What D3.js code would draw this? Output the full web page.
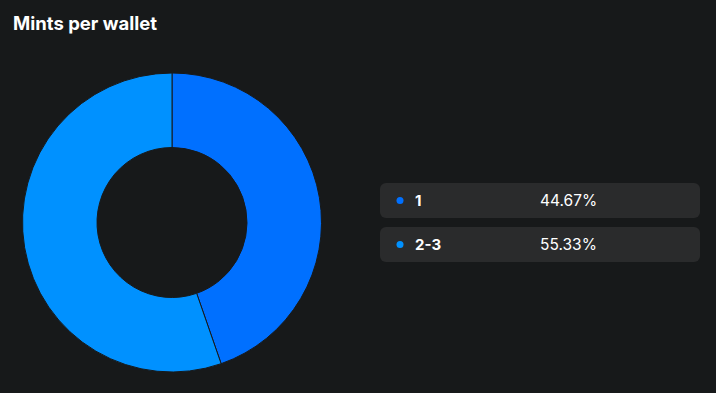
<!DOCTYPE html>
<html><head><meta charset="utf-8">
<script src="https://cdn.jsdelivr.net/npm/d3@7"></script>
<style>
html,body{margin:0;padding:0;background:#17191a;}
svg{display:block;}
</style></head><body>
<svg id="c" width="716" height="393"></svg>
<script>
const categories = ["1", "2-3"];
const values = [44.67, 55.33];
const valueLabels = ["44.67%", "55.33%"];
const colors = ["#0070ff", "#0091ff"];

const svg = d3.select("#c");
svg.append("rect").attr("width",716).attr("height",393).attr("fill","#17191a");
svg.append("text").attr("x",13).attr("y",29.5).text("Mints per wallet")
  .attr("fill","#ffffff").attr("font-family","Inter, 'Open Sans', sans-serif")
  .attr("font-weight","700").attr("font-size","18.5px");

const cx = 172, cy = 222.5, rOut = 149.5, rIn = 75;
const pie = d3.pie().sort(null).value(d => d);
const arc = d3.arc().innerRadius(rIn).outerRadius(rOut);
const color = d3.scaleOrdinal().domain(categories).range(colors);
const g = svg.append("g").attr("transform",`translate(${cx},${cy})`);
g.selectAll("path").data(pie(values)).join("path")
  .attr("d", arc).attr("fill",(d,i)=>color(categories[i]))
  .attr("stroke","#17191a").attr("stroke-width",1);

const legY = d3.scaleBand().domain(categories).range([183, 262]).paddingInner(9/44);
const leg = svg.append("g");
const items = leg.selectAll("g").data(categories).join("g")
  .attr("transform", d => `translate(380,${legY(d)})`);
items.append("rect").attr("width",320).attr("height",legY.bandwidth()).attr("rx",6)
  .attr("fill","#2a2b2c");
items.append("circle").attr("cx",20).attr("cy",legY.bandwidth()/2).attr("r",3.5)
  .attr("fill", d => color(d));
items.append("text").attr("x",35).attr("y",legY.bandwidth()/2+5).text(d=>d)
  .attr("fill","#ffffff").attr("font-family","Inter, 'Open Sans', sans-serif")
  .attr("font-weight","700").attr("font-size","15px");
items.append("text").attr("x",160).attr("y",legY.bandwidth()/2+5.5).text((d,i)=>valueLabels[i])
  .attr("fill","#ffffff").attr("font-family","Inter, 'Open Sans', sans-serif")
  .attr("font-weight","400").attr("font-size","15.5px");
</script></body></html>
